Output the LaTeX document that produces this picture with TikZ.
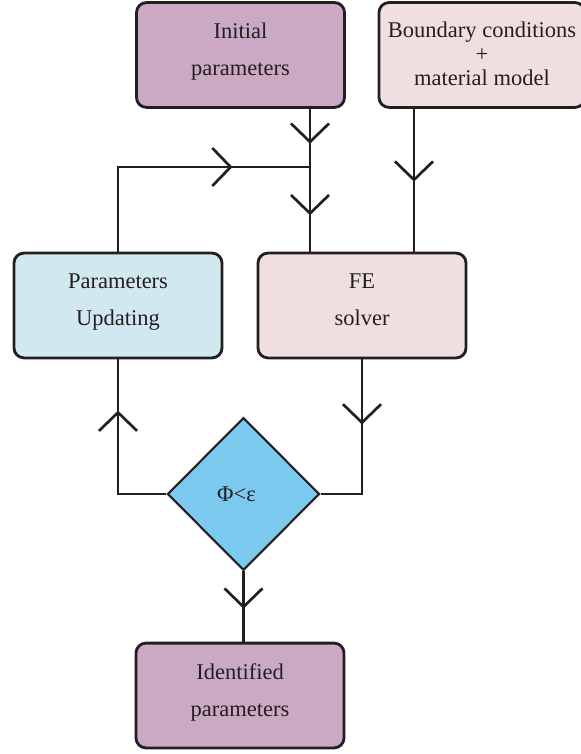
\documentclass[tikz,border=0pt]{standalone}
\usepackage{fontspec}
\setmainfont{Liberation Serif}
\usetikzlibrary{shapes.geometric, arrows.meta, decorations.markings}
\definecolor{colorI}{HTML}{CBA9C5}
\definecolor{colorB}{HTML}{F0DFE0}
\definecolor{colorP}{HTML}{D1E8F1}
\definecolor{colorD}{HTML}{7BC9EE}
\definecolor{colorL}{HTML}{231F20}

\begin{document}
\begin{tikzpicture}[x=0.025cm, y=-0.025cm,
        box/.style={draw=colorL, line width=2pt, rounded corners=0.25cm, minimum width=5.2cm, minimum height=2.62cm,
            align=center, inner sep=0pt, text depth=8pt, font=\fontsize{16}{18}\selectfont, text=colorL},
        flow/.style={draw=colorL, line width=1.9pt},
        mid/.style={postaction={decorate}, decoration={markings,
            mark=at position #1 with {\arrow{Straight Barb[length=0.46cm, width=0.95cm]}}}}]
        \useasboundingbox (0,0) rectangle (580,754);

        \node[box, fill=colorI] (init) at (240.5,55) {Initial\\[8pt]parameters};
        \node[box, fill=colorB, minimum width=5.15cm, text depth=2pt] (bc) at (482,55) {Boundary conditions\\[-1pt]+\\[-1pt]material model};
        \node[box, fill=colorP] (param) at (118,305.5) {Parameters\\[8pt]Updating};
        \node[box, fill=colorB] (fe) at (362,305.5) {FE\\[8pt]solver};
        \node[diamond, draw=colorL, line width=1.5pt, fill=colorD, minimum width=3.8cm, minimum height=3.82cm,
            inner sep=0pt, font=\fontsize{16}{18}\selectfont, text=colorL] (dec) at (243.5,494) {\hspace*{-0.35cm}Φ<ε};
        \node[box, fill=colorI] (ident) at (240,695.5) {Identified\\[8pt]parameters};

        \coordinate (join) at (310,167);
        \coordinate (bcx) at (414,0);

        \draw[flow, mid=0.6] (init.south -| join) -- (join);
        \draw[flow, mid=0.57] (join) -- (join |- fe.north);
        \draw[flow, mid=0.51] (bc.south -| bcx) -- (fe.north -| bcx);
        \draw[flow, mid=0.72] (param.north) |- (join);
        \draw[flow, mid=0.72] (dec.west) -| (param.south);
        \draw[flow, mid=0.37] (fe.south) |- (dec.east);
        \draw[flow, mid=0.53] (dec.south) -- (dec.south |- ident.north);
    \end{tikzpicture}
\end{document}
